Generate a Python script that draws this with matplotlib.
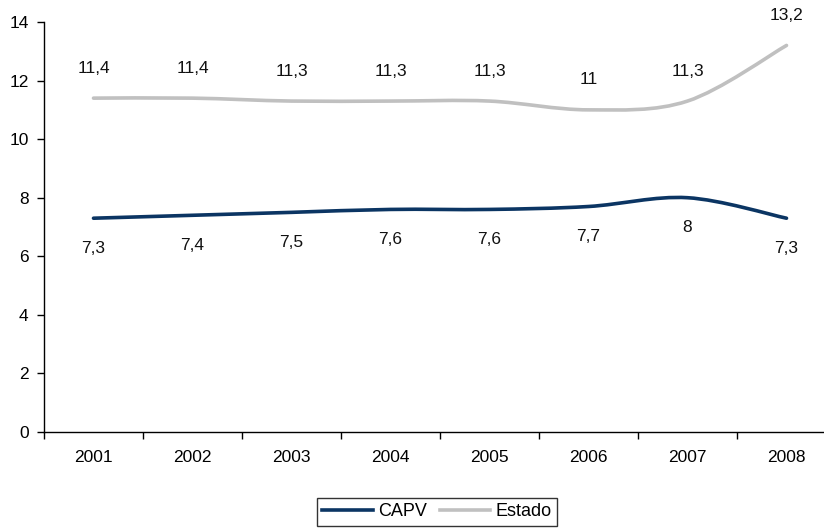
import matplotlib
matplotlib.use("Agg")
import matplotlib.pyplot as plt
from matplotlib.path import Path
from matplotlib.patches import PathPatch
from matplotlib.lines import Line2D

plt.rcParams['font.family'] = ['Liberation Sans', 'DejaVu Sans']

years = ["2001", "2002", "2003", "2004", "2005", "2006", "2007", "2008"]
capv = [7.3, 7.4, 7.5, 7.6, 7.6, 7.7, 8, 7.3]
estado = [11.4, 11.4, 11.3, 11.3, 11.3, 11, 11.3, 13.2]

col_capv = "#0b3563"
col_estado = "#c0c0c0"


def smooth_path(xs, ys):
    # Curva suavizada tipo Excel (Catmull-Rom -> Bezier)
    pts = list(zip(xs, ys))
    verts = [pts[0]]
    codes = [Path.MOVETO]
    n = len(pts)
    for i in range(n - 1):
        p0 = pts[i - 1] if i > 0 else pts[i]
        p1 = pts[i]
        p2 = pts[i + 1]
        p3 = pts[i + 2] if i + 2 < n else pts[i + 1]
        c1 = (p1[0] + (p2[0] - p0[0]) / 6, p1[1] + (p2[1] - p0[1]) / 6)
        c2 = (p2[0] - (p3[0] - p1[0]) / 6, p2[1] - (p3[1] - p1[1]) / 6)
        verts += [c1, c2, p2]
        codes += [Path.CURVE4] * 3
    return Path(verts, codes)


def fmt(v):
    return f"{v:g}".replace(".", ",")


fig = plt.figure(figsize=(8.24, 5.31), dpi=100)
ax = fig.add_axes([44 / 824, 99 / 531, 792 / 824, 410 / 531])

x = list(range(len(years)))
for vals, col in [(capv, col_capv), (estado, col_estado)]:
    patch = PathPatch(smooth_path(x, vals), facecolor="none", edgecolor=col,
                      lw=2.6, capstyle="round", joinstyle="round", clip_on=False)
    ax.add_patch(patch)

for xi, v in zip(x, capv):
    ax.annotate(fmt(v), (xi, v), xytext=(0, -21.5), textcoords="offset points",
                ha="center", va="center", fontsize=12.5, color="#111111")
for xi, v in zip(x, estado):
    ax.annotate(fmt(v), (xi, v), xytext=(0, 21.5), textcoords="offset points",
                ha="center", va="center", fontsize=12.5, color="#111111")

ax.set_xlim(-0.5, 7.5)
ax.set_ylim(0, 14)
ax.set_yticks(range(0, 15, 2))
ax.set_xticks([i + 0.5 for i in range(-1, 8)])
ax.set_xticklabels([])
ax.set_xticks(x, minor=True)
ax.set_xticklabels(years, minor=True)
ax.tick_params(axis="x", which="minor", length=0, pad=13, labelsize=12.5)
ax.tick_params(axis="x", which="major", length=5, direction="out", width=1)
ax.tick_params(axis="y", length=5, direction="out", width=1, labelsize=12.5, pad=6)

for s in ["top", "right"]:
    ax.spines[s].set_visible(False)
for s in ["left", "bottom"]:
    ax.spines[s].set_linewidth(1)

handles = [Line2D([], [], color=col_capv, lw=2.6),
           Line2D([], [], color=col_estado, lw=2.6)]
leg = fig.legend(handles, ["CAPV", "Estado"], loc="center",
                 bbox_to_anchor=(437 / 824, 1 - 512 / 531), ncol=2,
                 fontsize=13, frameon=True, fancybox=False, edgecolor="black",
                 handlelength=2.8, handletextpad=0.3, columnspacing=0.7,
                 borderpad=0.3, borderaxespad=0)
leg.get_frame().set_linewidth(1)

fig.savefig("out.png", dpi=100)
